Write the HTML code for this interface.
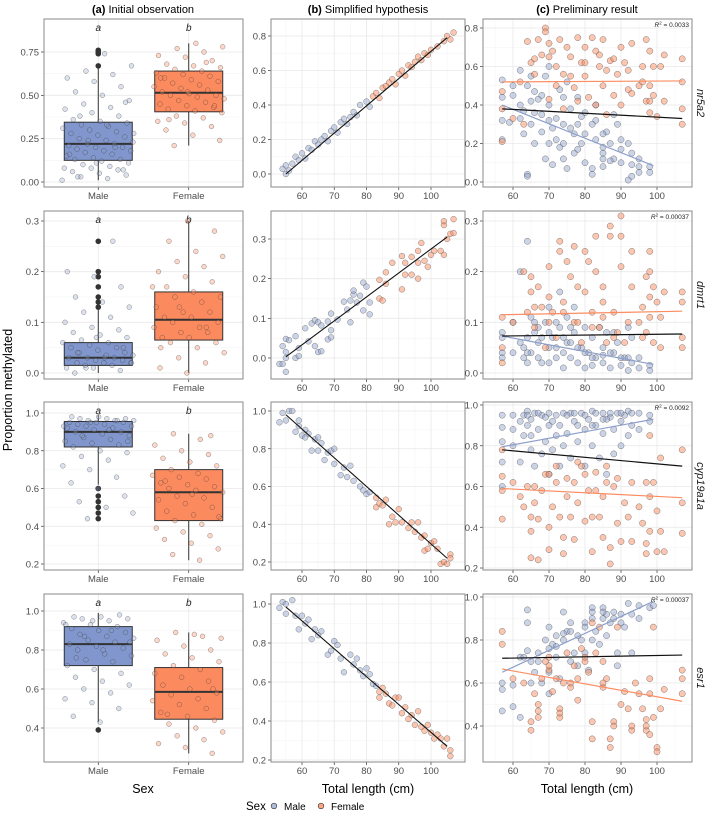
<!DOCTYPE html>
<html><head><meta charset="utf-8"><style>
html,body{margin:0;padding:0;background:#fff;}
svg{display:block;font-family:"Liberation Sans",sans-serif;}
</style></head><body>
<svg id="fig" width="709" height="821" viewBox="0 0 709 821" xmlns="http://www.w3.org/2000/svg">
<text x="143" y="13" text-anchor="middle" font-size="11"><tspan font-weight="bold">(a)</tspan> Initial observation</text>
<text x="368" y="13" text-anchor="middle" font-size="11"><tspan font-weight="bold">(b)</tspan> Simplified hypothesis</text>
<text x="587" y="13" text-anchor="middle" font-size="11"><tspan font-weight="bold">(c)</tspan> Preliminary result</text>
<text transform="translate(12,390) rotate(-90)" text-anchor="middle" font-size="12.5">Proportion methylated</text>
<text x="143" y="793" text-anchor="middle" font-size="12.5">Sex</text>
<text x="368" y="793" text-anchor="middle" font-size="12.5">Total length (cm)</text>
<text x="587" y="793" text-anchor="middle" font-size="12.5">Total length (cm)</text>
<g>
<text x="246" y="810" font-size="11.5">Sex</text>
<circle cx="274" cy="806" r="2.8" fill="rgba(141,160,203,0.7)" stroke="#333" stroke-width="0.6"/>
<text x="284" y="810" font-size="10">Male</text>
<circle cx="321" cy="806" r="2.8" fill="rgba(252,141,98,0.8)" stroke="#333" stroke-width="0.6"/>
<text x="331" y="810" font-size="10">Female</text>
</g>
</svg>
<script>
var genes = ["nr5a2","dmrt1","cyp19a1a","esr1"];
var r2Labels = ["0.0033","0.00037","0.0092","0.00037"];
var sexCategories = ["Male","Female"];
var boxMale = [[0.01,0.125,0.22,0.345,0.66],[0,0.015,0.03,0.06,0.125],[0.62,0.82,0.9,0.955,0.99],[0.43,0.72,0.83,0.92,0.99]];
var boxFemale = [[0.21,0.405,0.515,0.64,0.80],[0,0.065,0.105,0.16,0.30],[0.22,0.43,0.58,0.70,0.89],[0.27,0.445,0.585,0.71,0.89]];
var outliersMale = [[0.67,0.74,0.75,0.76],[0.13,0.14,0.15,0.17,0.19,0.2,0.26],[0.44,0.47,0.5,0.53,0.56,0.6],[0.39]];
var jitterMale = [
[0.01,0.02,0.03,0.04,0.05,0.06,0.07,0.08,0.08,0.09,0.1,0.11,0.12,0.13,0.13,0.14,0.15,0.16,0.17,0.18,0.18,0.19,0.2,0.2,0.21,0.22,0.22,0.23,0.24,0.25,0.26,0.27,0.28,0.29,0.3,0.31,0.32,0.33,0.34,0.35,0.36,0.38,0.4,0.42,0.43,0.45,0.47,0.5,0.52,0.55,0.58,0.6,0.62,0.64,0.67,0.74,0.03,0.07,0.11,0.16,0.2,0.24,0.28,0.33,0.38,0.46],
[0,0.005,0.01,0.01,0.015,0.015,0.02,0.02,0.02,0.025,0.025,0.03,0.03,0.03,0.035,0.035,0.04,0.04,0.045,0.05,0.05,0.055,0.06,0.06,0.065,0.07,0.075,0.08,0.085,0.09,0.1,0.11,0.12,0.13,0.14,0.15,0.17,0.19,0.2,0.26,0.01,0.02,0.03,0.04,0.05,0.07],
[0.44,0.47,0.5,0.53,0.56,0.6,0.63,0.66,0.7,0.72,0.75,0.77,0.79,0.8,0.82,0.83,0.84,0.85,0.86,0.87,0.88,0.89,0.9,0.9,0.91,0.92,0.92,0.93,0.93,0.94,0.94,0.95,0.95,0.95,0.96,0.96,0.96,0.97,0.97,0.97,0.98,0.98,0.96,0.95,0.93,0.91,0.88,0.85],
[0.43,0.46,0.5,0.53,0.55,0.58,0.6,0.62,0.64,0.66,0.68,0.7,0.72,0.74,0.75,0.77,0.78,0.8,0.81,0.82,0.83,0.84,0.85,0.86,0.87,0.88,0.89,0.9,0.91,0.92,0.93,0.94,0.95,0.96,0.96,0.97,0.97,0.98,0.95,0.93,0.9,0.87,0.84,0.8,0.76]];
var jitterFemale = [
[0.21,0.24,0.27,0.3,0.32,0.34,0.35,0.37,0.38,0.4,0.41,0.42,0.43,0.44,0.45,0.46,0.47,0.48,0.49,0.5,0.5,0.51,0.52,0.53,0.54,0.55,0.56,0.57,0.58,0.59,0.6,0.61,0.62,0.63,0.64,0.65,0.66,0.67,0.68,0.7,0.72,0.73,0.75,0.77,0.78,0.8,0.36,0.44,0.52,0.6,0.69],
[0,0.01,0.02,0.03,0.04,0.05,0.06,0.06,0.07,0.07,0.08,0.08,0.09,0.09,0.1,0.1,0.11,0.11,0.12,0.12,0.13,0.14,0.15,0.15,0.16,0.17,0.18,0.19,0.2,0.21,0.22,0.23,0.24,0.26,0.28,0.3,0.05,0.09,0.13,0.17],
[0.22,0.25,0.28,0.31,0.33,0.35,0.37,0.39,0.41,0.43,0.44,0.46,0.48,0.5,0.52,0.54,0.55,0.56,0.58,0.59,0.6,0.61,0.62,0.63,0.65,0.66,0.67,0.68,0.7,0.72,0.74,0.76,0.78,0.8,0.83,0.86,0.89,0.45,0.57,0.64,0.88],
[0.27,0.3,0.32,0.34,0.36,0.38,0.4,0.42,0.44,0.46,0.48,0.5,0.52,0.54,0.55,0.57,0.58,0.6,0.62,0.64,0.66,0.68,0.7,0.72,0.74,0.76,0.78,0.8,0.82,0.85,0.87,0.89,0.86,0.88,0.47,0.6]];
var hypPoints = [
[[54,0.03],[55,0],[55,0.05],[56,0.02],[57,0.06],[58,0.1],[59,0.08],[60,0.12],[61,0.09],[62,0.15],[63,0.14],[64,0.19],[65,0.17],[66,0.2],[67,0.22],[68,0.19],[69,0.25],[70,0.27],[71,0.24],[72,0.3],[73,0.32],[74,0.29],[75,0.33],[76,0.36],[77,0.34],[78,0.4],[80,0.42],[81,0.39],[82,0.45],[83,0.47],[84,0.44],[85,0.5],[86,0.51],[87,0.53],[88,0.55],[89,0.52],[90,0.58],[91,0.6],[92,0.57],[93,0.63],[94,0.62],[95,0.65],[96,0.68],[97,0.66],[98,0.7],[99,0.69],[100,0.72],[102,0.74],[104,0.77],[105,0.8],[106,0.78],[107,0.82]],
[[53,-0.015],[54,-0.015],[54,0.03],[55,0.015],[55,0],[55,-0.035],[55,0.048],[56,0.045],[58,0],[58,0.055],[59,0.005],[59,0.025],[61,0.075],[62,0.042],[63,0.087],[64,0.095],[64,0.03],[65,0.015],[65,0.09],[66,0.017],[66,0.082],[68,0.092],[68,0.047],[69,0.112],[69,0.07],[69,0.052],[71,0.097],[73,0.142],[74,0.122],[75,0.145],[75,0.09],[76,0.16],[76,0.17],[77,0.14],[78,0.157],[79,0.19],[79,0.12],[80,0.18],[81,0.14],[81,0.11],[84,0.197],[84,0.15],[85,0.145],[86,0.187],[86,0.216],[88,0.24],[91,0.173],[91,0.257],[92,0.24],[92,0.21],[94,0.255],[94,0.21],[96,0.27],[96,0.24],[96,0.2],[97,0.29],[98,0.245],[99,0.23],[100,0.26],[101,0.27],[103,0.27],[104,0.26],[104,0.335],[104,0.345],[105,0.3],[106,0.313],[107,0.35],[107,0.315]],
[[53,0.94],[54,0.99],[55,0.95],[56,1.0],[57,1.0],[58,0.89],[59,0.95],[59,0.92],[60,0.87],[61,0.86],[61,0.9],[62,0.88],[63,0.79],[64,0.85],[65,0.86],[65,0.79],[66,0.83],[67,0.74],[68,0.78],[69,0.79],[70,0.8],[70,0.72],[72,0.66],[73,0.7],[74,0.65],[75,0.71],[76,0.63],[78,0.6],[79,0.58],[80,0.56],[81,0.57],[83,0.54],[83,0.49],[84,0.51],[85,0.5],[86,0.53],[87,0.4],[88,0.44],[89,0.41],[90,0.48],[91,0.41],[93,0.38],[94,0.41],[95,0.36],[96,0.41],[97,0.33],[98,0.34],[98,0.26],[99,0.27],[100,0.3],[101,0.31],[102,0.27],[103,0.19],[104,0.2],[105,0.19],[106,0.24],[106,0.22]],
[[53,0.98],[54,1.01],[55,0.95],[55,1.0],[57,1.02],[58,0.94],[59,0.87],[60,0.94],[61,0.9],[62,0.92],[63,0.82],[64,0.87],[65,0.84],[66,0.86],[68,0.74],[69,0.76],[70,0.81],[71,0.79],[72,0.72],[73,0.65],[75,0.74],[76,0.69],[77,0.72],[78,0.66],[79,0.63],[80,0.67],[81,0.64],[82,0.59],[83,0.58],[84,0.55],[84,0.52],[85,0.57],[86,0.54],[87,0.49],[88,0.48],[89,0.52],[90,0.52],[91,0.44],[92,0.47],[93,0.41],[94,0.43],[95,0.38],[96,0.45],[97,0.37],[98,0.35],[99,0.38],[100,0.34],[101,0.31],[102,0.33],[103,0.31],[104,0.27],[105,0.31],[106,0.22],[106,0.25]]];
var hypMaleCutoff = [82,83,82,84];
var hypFit = [[55,0,105,0.79],[55,0.003,105,0.305],[55,0.98,105,0.22],[55,0.985,105,0.27]];
var prelimMale = [
[[57,0.53],[57,0.44],[57,0.32],[57,0.22],[59,0.31],[60,0.5],[60,0.45],[62,0.58],[62,0.4],[63,0.37],[63,0.25],[64,0.04],[64,0.03],[65,0.55],[65,0.3],[66,0.47],[66,0.2],[67,0.43],[68,0.35],[68,0.26],[69,0.55],[69,0.12],[70,0.6],[70,0.4],[70,0.2],[71,0.09],[72,0.33],[73,0.48],[73,0.18],[74,0.12],[74,0.3],[75,0.52],[75,0.07],[76,0.38],[77,0.25],[77,0.15],[78,0.44],[78,0.3],[79,0.2],[80,0.1],[80,0.36],[82,0.04],[82,0.07],[83,0.32],[83,0.22],[85,0.18],[85,0.12],[85,0.08],[86,0.26],[87,0.2],[88,0.12],[89,0.3],[90,0.1],[90,0.17],[92,0.01],[92,0.2],[93,0.03],[93,0.15],[95,0.12],[95,0.08],[98,0.08],[98,0.05],[64,0.5],[66,0.36],[71,0.28],[74,0.44],[79,0.34],[83,0.4],[85,0.25],[88,0.35],[62,0.33],[65,0.42],[68,0.45],[70,0.32],[72,0.22],[74,0.2],[76,0.28],[78,0.17],[80,0.25],[82,0.3],[85,0.15],[87,0.11],[90,0.22],[93,0.09],[95,0.05]],
[[57,0.08],[57,0.07],[57,0.04],[57,0.03],[60,0.04],[60,0.1],[62,0.2],[62,0.06],[63,0.03],[64,0.26],[64,0.02],[64,0.07],[65,0.11],[65,0.04],[66,0.08],[67,0.03],[67,0.06],[68,0.02],[69,0.1],[70,0.13],[70,0.05],[70,0.02],[71,0.07],[72,0.03],[73,0.09],[73,0.16],[74,0.01],[74,0.04],[75,0.06],[75,0.11],[76,0.03],[77,0.08],[77,0.13],[78,0.02],[79,0.05],[80,0.01],[80,0.09],[81,0.04],[82,0.015],[82,0.07],[83,0.03],[85,0.05],[85,0.02],[86,0.08],[87,0.01],[88,0.04],[89,0.06],[90,0.015],[91,0.03],[92,0.005],[93,0.02],[93,0.07],[95,0.01],[95,0.03],[98,0.015],[98,0.005],[63,0.05],[66,0.1],[68,0.07],[72,0.1],[76,0.06],[84,0.09],[88,0.08],[92,0.09],[64,0.04],[67,0.09],[70,0.08],[72,0.05],[74,0.07],[76,0.09],[78,0.05],[80,0.04],[82,0.03],[85,0.035],[87,0.04],[90,0.03],[92,0.03]],
[[57,0.95],[57,0.89],[57,0.82],[57,0.72],[57,0.6],[60,0.95],[60,0.88],[60,0.8],[62,0.92],[62,0.72],[63,0.95],[63,0.85],[64,0.97],[64,0.9],[65,0.93],[65,0.78],[66,0.96],[66,0.7],[67,0.88],[68,0.95],[69,0.82],[70,0.96],[70,0.9],[70,0.66],[71,0.78],[72,0.95],[73,0.9],[73,0.7],[74,0.96],[75,0.86],[76,0.96],[76,0.74],[77,0.92],[78,0.82],[79,0.96],[80,0.88],[80,0.7],[81,0.93],[82,0.97],[82,0.8],[83,0.9],[84,0.74],[85,0.96],[85,0.86],[86,0.66],[87,0.94],[88,0.88],[89,0.96],[90,0.8],[90,0.92],[91,0.95],[92,0.97],[92,0.85],[93,0.9],[95,0.96],[95,0.88],[98,0.95],[98,0.92],[65,0.85],[68,0.76],[71,0.92],[74,0.8],[78,0.9],[82,0.9],[86,0.93],[88,0.76],[64,0.95],[67,0.96],[69,0.94],[72,0.85],[75,0.95],[77,0.96],[80,0.95],[83,0.96],[85,0.93],[87,0.96],[90,0.96],[93,0.96]],
[[57,0.6],[57,0.57],[57,0.47],[60,0.59],[60,0.49],[62,0.72],[62,0.44],[63,0.72],[64,0.94],[64,0.88],[65,0.7],[65,0.6],[66,0.65],[67,0.74],[68,0.6],[69,0.8],[70,0.86],[70,0.65],[70,0.55],[71,0.78],[72,0.72],[73,0.62],[74,0.93],[74,0.8],[75,0.84],[76,0.88],[76,0.7],[77,0.74],[78,0.68],[79,0.8],[80,0.88],[80,0.74],[81,0.66],[82,0.95],[82,0.9],[83,0.84],[84,0.78],[85,0.95],[85,0.9],[86,0.82],[87,0.88],[88,0.93],[89,0.68],[89,0.74],[90,0.92],[91,0.86],[92,0.97],[93,0.92],[93,0.74],[95,0.96],[95,0.9],[98,0.95],[99,0.96],[64,0.75],[67,0.7],[72,0.82],[78,0.82],[82,0.8],[86,0.92],[90,0.88],[70,0.76],[72,0.77],[74,0.83],[76,0.84],[80,0.86],[82,0.93],[85,0.93],[88,0.9]]];
var prelimFemale = [
[[57,0.47],[57,0.38],[57,0.21],[60,0.33],[62,0.52],[63,0.3],[64,0.73],[65,0.62],[66,0.56],[67,0.74],[68,0.66],[69,0.8],[69,0.78],[70,0.72],[70,0.43],[71,0.68],[72,0.6],[73,0.74],[74,0.56],[74,0.38],[75,0.7],[76,0.65],[77,0.49],[78,0.75],[78,0.42],[79,0.62],[80,0.7],[80,0.55],[81,0.44],[82,0.75],[83,0.68],[83,0.4],[84,0.6],[85,0.74],[85,0.5],[86,0.35],[87,0.63],[88,0.45],[89,0.56],[90,0.7],[90,0.4],[91,0.62],[92,0.48],[93,0.72],[93,0.46],[95,0.5],[96,0.6],[97,0.74],[97,0.42],[98,0.68],[98,0.5],[98,0.36],[99,0.45],[100,0.34],[101,0.6],[102,0.42],[102,0.66],[107,0.64],[107,0.52],[107,0.38],[107,0.3],[66,0.64],[70,0.65],[72,0.5],[76,0.55],[80,0.62],[84,0.66],[86,0.58],[88,0.64],[92,0.58],[96,0.52],[98,0.42],[99,0.6]],
[[57,0.11],[57,0.05],[57,0.02],[60,0.1],[63,0.2],[64,0.12],[65,0.19],[65,0.16],[66,0.09],[67,0.17],[68,0.13],[69,0.05],[70,0.21],[70,0.15],[71,0.12],[72,0.07],[73,0.26],[73,0.24],[74,0.14],[75,0.22],[76,0.19],[77,0.25],[77,0.1],[78,0.17],[79,0.06],[80,0.24],[80,0.16],[81,0.22],[82,0.12],[83,0.27],[83,0.2],[84,0.09],[85,0.17],[85,0.14],[86,0.06],[87,0.29],[87,0.27],[88,0.12],[89,0.08],[90,0.31],[90,0.27],[90,0.21],[91,0.06],[93,0.24],[93,0.17],[95,0.1],[96,0.13],[97,0.19],[97,0.08],[98,0.24],[98,0.2],[98,0.15],[99,0.17],[99,0.06],[100,0.14],[101,0.11],[101,0.05],[102,0.16],[107,0.16],[107,0.14],[107,0.07],[107,0.05],[66,0.13],[70,0.1],[74,0.12],[78,0.1],[82,0.09],[85,0.11],[88,0.07],[92,0.1],[96,0.07],[98,0.11]],
[[57,0.78],[57,0.65],[57,0.58],[57,0.44],[60,0.62],[62,0.55],[63,0.5],[64,0.6],[65,0.45],[65,0.38],[65,0.25],[66,0.52],[67,0.44],[67,0.24],[68,0.58],[69,0.66],[70,0.4],[70,0.29],[71,0.5],[72,0.62],[73,0.45],[74,0.27],[74,0.35],[75,0.55],[76,0.45],[77,0.62],[77,0.34],[78,0.52],[79,0.7],[80,0.43],[81,0.58],[82,0.45],[82,0.28],[83,0.67],[84,0.45],[85,0.55],[85,0.35],[86,0.62],[87,0.3],[87,0.22],[88,0.6],[89,0.42],[90,0.33],[91,0.52],[92,0.45],[93,0.62],[93,0.33],[95,0.5],[96,0.42],[97,0.62],[97,0.32],[97,0.27],[98,0.85],[98,0.55],[98,0.38],[99,0.62],[100,0.48],[100,0.28],[101,0.74],[101,0.38],[102,0.28],[107,0.78],[107,0.52],[107,0.37],[66,0.6],[70,0.66],[72,0.7],[75,0.64],[78,0.72],[80,0.66],[83,0.58],[86,0.7],[89,0.64]],
[[57,0.84],[57,0.78],[60,0.62],[63,0.6],[65,0.42],[65,0.38],[66,0.55],[67,0.5],[67,0.44],[68,0.62],[69,0.7],[70,0.66],[70,0.72],[71,0.56],[72,0.62],[73,0.44],[73,0.48],[74,0.6],[75,0.74],[76,0.58],[77,0.68],[78,0.52],[78,0.62],[79,0.76],[80,0.7],[81,0.65],[82,0.88],[82,0.42],[82,0.34],[83,0.74],[84,0.86],[85,0.7],[85,0.58],[86,0.62],[87,0.34],[87,0.3],[88,0.42],[89,0.86],[90,0.5],[91,0.56],[92,0.48],[93,0.38],[94,0.6],[95,0.55],[96,0.48],[97,0.43],[97,0.38],[98,0.62],[98,0.55],[98,0.36],[99,0.44],[99,0.86],[100,0.3],[100,0.28],[101,0.48],[102,0.57],[107,0.66],[107,0.62],[107,0.55],[67,0.47],[70,0.68],[73,0.46],[76,0.6],[80,0.72],[85,0.6],[88,0.4],[93,0.4],[97,0.4]]];
var fitMale = [[57,0.40,99,0.085],[57,0.073,99,0.017],[57,0.795,99,0.93],[57,0.65,99,0.98]];
var fitAll = [[57,0.38,107,0.33],[57,0.073,107,0.077],[57,0.78,107,0.70],[57,0.715,107,0.73]];
var fitFemale = [[57,0.52,107,0.525],[57,0.115,107,0.122],[57,0.59,107,0.545],[57,0.665,107,0.515]];
var ticksA = [[0,0.25,0.5,0.75],[0,0.1,0.2,0.3],[0.2,0.4,0.6,0.8,1],[0.4,0.6,0.8,1]];
var tickLabA = [["0.00","0.25","0.50","0.75"],["0.0","0.1","0.2","0.3"],["0.2","0.4","0.6","0.8","1.0"],["0.4","0.6","0.8","1.0"]];
var ticksB = [[0,0.2,0.4,0.6,0.8],[0,0.1,0.2,0.3],[0.2,0.4,0.6,0.8,1],[0.2,0.4,0.6,0.8,1]];
var tickLabB = [["0.0","0.2","0.4","0.6","0.8"],["0.0","0.1","0.2","0.3"],["0.2","0.4","0.6","0.8","1.0"],["0.2","0.4","0.6","0.8","1.0"]];
var ticksC = [[0,0.2,0.4,0.6,0.8],[0,0.1,0.2,0.3],[0.2,0.4,0.6,0.8,1],[0.4,0.6,0.8,1]];
var tickLabC = [["0.0","0.2","0.4","0.6","0.8"],["0.0","0.1","0.2","0.3"],["0.2","0.4","0.6","0.8","1.0"],["0.4","0.6","0.8","1.0"]];
var xTicks = [60,70,80,90,100];

var NS="http://www.w3.org/2000/svg";
var fig=document.getElementById('fig');
var colA=[44,243], colB=[271,465], colC=[483,692];
var rows=[[19,187],[211,379],[402,570],[594,762]];
var calA=[[0,182,0.75,52],[0,373,0.3,221],[1,413,0.2,564],[1,611,0.4,728]];
var calB=[[0,174,0.8,36],[0,358,0.3,239],[1,411,0.2,562],[1,604,0.2,760]];
var calC=[[0,182,0.8,28],[0,373,0.3,221],[1,405,0.2,568],[1,597,0.4,726]];
function yScale(c){return function(v){return c[1]+(v-c[0])*(c[3]-c[1])/(c[2]-c[0]);};}
function xB(v){return 302+(v-60)*(431-302)/40;}
function xC(v){return 513+(v-60)*(657-513)/40;}
function xA(i){return colA[0]+(0.6+i)/2.2*(colA[1]-colA[0]);}
function el(tag,attrs,parent){var e=document.createElementNS(NS,tag);for(var k in attrs){e.setAttribute(k,attrs[k]);}(parent||fig).appendChild(e);return e;}
var MF='rgba(141,160,203,0.45)', FF='rgba(252,141,98,0.5)';
var MFA='rgba(141,160,203,0.3)', FFA='rgba(252,141,98,0.35)';

function panelFrame(g,x0,x1,y0,y1,ys,ticks,labs,xt,xs){
  el('rect',{x:x0,y:y0,width:x1-x0,height:y1-y0,fill:'#fff'},g);
  for(var i=0;i<ticks.length-1;i++){var m=(ticks[i]+ticks[i+1])/2;el('line',{x1:x0,x2:x1,y1:ys(m),y2:ys(m),stroke:'#f3f3f3','stroke-width':0.6},g);}
  if(xt){
    for(var j=0;j<xt.length-1;j++){var mm=(xt[j]+xt[j+1])/2;el('line',{y1:y0,y2:y1,x1:xs(mm),x2:xs(mm),stroke:'#f3f3f3','stroke-width':0.6},g);}
    var lo=xt[0]-5;if(xs(lo)>x0){el('line',{y1:y0,y2:y1,x1:xs(lo),x2:xs(lo),stroke:'#f3f3f3','stroke-width':0.6},g);}
    var hi=xt[xt.length-1]+5;if(xs(hi)<x1){el('line',{y1:y0,y2:y1,x1:xs(hi),x2:xs(hi),stroke:'#f3f3f3','stroke-width':0.6},g);}
  }
  for(var t=0;t<ticks.length;t++){
    var y=ys(ticks[t]);
    el('line',{x1:x0,x2:x1,y1:y,y2:y,stroke:'#e8e8e8','stroke-width':0.8},g);
    el('line',{x1:x0-3,x2:x0,y1:y,y2:y,stroke:'#333','stroke-width':0.7},g);
    var tx=el('text',{x:x0-5,y:y+3.5,'text-anchor':'end','font-size':9.5,fill:'#4d4d4d'},g);
    tx.textContent=labs[t];
    
    
  }
  if(xt){
    for(var q=0;q<xt.length;q++){
      var x=xs(xt[q]);
      el('line',{y1:y0,y2:y1,x1:x,x2:x,stroke:'#e8e8e8','stroke-width':0.8},g);
      el('line',{y1:y1,y2:y1+3,x1:x,x2:x,stroke:'#333','stroke-width':0.7},g);
      var tx2=el('text',{x:x,y:y1+12,'text-anchor':'middle','font-size':9.5,fill:'#4d4d4d'},g);
      tx2.textContent=String(xt[q]);
      
      
    }
  }
}
function border(g,x0,x1,y0,y1){el('rect',{x:x0,y:y0,width:x1-x0,height:y1-y0,fill:'none',stroke:'#8a8a8a','stroke-width':1},g);}

function drawA(r){
  var y0=rows[r][0], y1=rows[r][1];
  var ga=el('g',{});
  
  
  var ys=yScale(calA[r]);
  panelFrame(ga,colA[0],colA[1],y0,y1,ys,ticksA[r],tickLabA[r],null,null);
  for(var i=0;i<2;i++){
    var x=xA(i);
    el('line',{y1:y0,y2:y1,x1:x,x2:x,stroke:'#e8e8e8','stroke-width':0.8},ga);
    el('line',{y1:y1,y2:y1+3,x1:x,x2:x,stroke:'#333','stroke-width':0.7},ga);
    var tx=el('text',{x:x,y:y1+12,'text-anchor':'middle','font-size':9.5,fill:'#4d4d4d'},ga);
    tx.textContent=sexCategories[i];
    
    
    var lt=el('text',{x:x,y:y0+12,'text-anchor':'middle','font-size':10,'font-style':'italic',fill:'#222'},ga);
    lt.textContent=i?'b':'a';
    
    
  }
  var bw=34;
  var boxes=[boxMale[r],boxFemale[r]], cols=['#8096cc','#fb8a5f'];
  for(var b=0;b<2;b++){
    var s=boxes[b], bx=xA(b);
    var bg=el('g',{},ga);
    
    
    el('line',{x1:bx,x2:bx,y1:ys(s[0]),y2:ys(s[4]),stroke:'#333','stroke-width':1},bg);
    el('rect',{x:bx-bw,y:ys(s[3]),width:2*bw,height:ys(s[1])-ys(s[3]),fill:cols[b],stroke:'#333','stroke-width':1},bg);
    el('line',{x1:bx-bw,x2:bx+bw,y1:ys(s[2]),y2:ys(s[2]),stroke:'#333','stroke-width':2},bg);
  }
  for(var o=0;o<outliersMale[r].length;o++){
    var c=el('circle',{cx:xA(0),cy:ys(outliersMale[r][o]),r:2.8,fill:'#333'},ga);
    
    
  }
  var groups=[jitterMale[r],jitterFemale[r]], fills=[MFA,FFA];
  for(var g=0;g<2;g++){
    for(var k=0;k<groups[g].length;k++){
      var off=(((k*61+r*17+g*29)%97)/97-0.5)*0.8*90.5;
      var p=el('circle',{cx:xA(g)+off,cy:ys(groups[g][k]),r:2.4,fill:fills[g],stroke:'rgba(50,50,50,0.55)','stroke-width':0.5},ga);
      
      
    }
  }
  border(ga,colA[0],colA[1],y0,y1);
}
function drawB(r){
  var y0=rows[r][0], y1=rows[r][1];
  var gb=el('g',{});
  
  
  var ys=yScale(calB[r]);
  panelFrame(gb,colB[0],colB[1],y0,y1,ys,ticksB[r],tickLabB[r],xTicks,xB);
  var pts=hypPoints[r];
  for(var i=0;i<pts.length;i++){
    var m=pts[i][0]<hypMaleCutoff[r];
    var c=el('circle',{cx:xB(pts[i][0]),cy:ys(pts[i][1]),r:2.9,fill:m?MF:FF,stroke:'rgba(60,60,60,0.6)','stroke-width':0.5},gb);
    
    
  }
  var f=hypFit[r];
  var hl=el('line',{x1:xB(f[0]),y1:ys(f[1]),x2:xB(f[2]),y2:ys(f[3]),stroke:'#111','stroke-width':1.1},gb);
  
  
  border(gb,colB[0],colB[1],y0,y1);
}
function drawC(r){
  var y0=rows[r][0], y1=rows[r][1];
  var gc=el('g',{});
  
  
  var ys=yScale(calC[r]);
  panelFrame(gc,colC[0],colC[1],y0,y1,ys,ticksC[r],tickLabC[r],xTicks,xC);
  var sets=[prelimMale[r],prelimFemale[r]], fills=[MF,FF];
  for(var s=0;s<2;s++){
    for(var i=0;i<sets[s].length;i++){
      var c=el('circle',{cx:xC(sets[s][i][0]),cy:ys(sets[s][i][1]),r:3.1,fill:fills[s],stroke:'rgba(50,50,50,0.6)','stroke-width':0.5},gc);
      
      
    }
  }
  var fits=[fitFemale[r],fitMale[r],fitAll[r]], lc=['#fc8d62','#8da0cb','#111'], nm=['female-fit-line','male-fit-line','overall-fit-line'];
  for(var j=0;j<3;j++){
    var f=fits[j];
    var l=el('line',{x1:xC(f[0]),y1:ys(f[1]),x2:xC(f[2]),y2:ys(f[3]),stroke:lc[j],'stroke-width':1.2},gc);
    
    
  }
  var rt=el('text',{x:colC[1]-3,y:y0+8,'text-anchor':'end','font-size':6.5,fill:'#222'},gc);
  
  
  var t1=el('tspan',{'font-style':'italic'},rt); t1.textContent='R';
  var t2=el('tspan',{'font-size':4.5,dy:-2.5},rt); t2.textContent='2';
  var t3=el('tspan',{dy:2.5},rt); t3.textContent=' = '+r2Labels[r];
  border(gc,colC[0],colC[1],y0,y1);
  var st=el('text',{transform:'translate(697,'+((y0+y1)/2)+') rotate(90)','text-anchor':'middle','font-size':11,'font-style':'italic',fill:'#1a1a1a'});
  st.textContent=genes[r];
  
  
}
for(var r=0;r<4;r++){
  try{drawA(r);}catch(e){}
  try{drawB(r);}catch(e){}
  try{drawC(r);}catch(e){}
}
</script>
</body></html>
